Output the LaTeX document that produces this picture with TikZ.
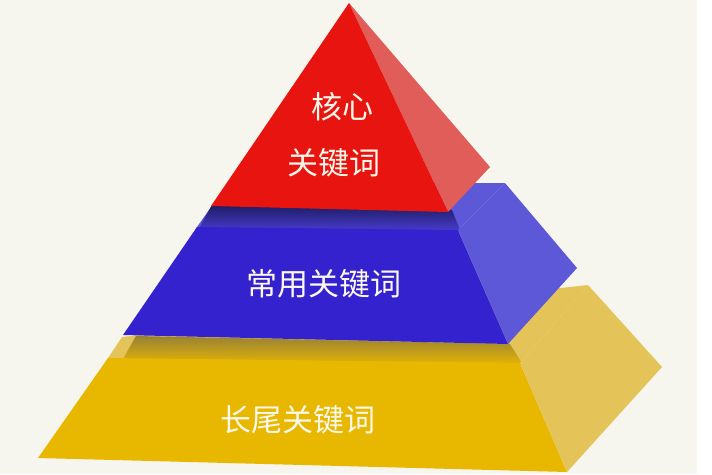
\documentclass[tikz,border=0pt]{standalone}
\usepackage{fontspec}
\newfontfamily\cjk{Noto Sans CJK SC}
\usetikzlibrary{positioning,fadings}

\definecolor{paper}{HTML}{F6F5EE}
\definecolor{redFront}{HTML}{E8140F}
\definecolor{redSide}{HTML}{E05D5A}
\definecolor{blueFront}{HTML}{3522CF}
\definecolor{blueSide}{HTML}{5D58D8}
\definecolor{blueShadow}{HTML}{1E1C62}
\definecolor{goldFront}{HTML}{E8B800}
\definecolor{goldSide}{HTML}{E4C459}
\definecolor{goldShadow}{HTML}{3C300E}
\definecolor{lblText}{HTML}{FBF7EA}

% soft left ends of the shadows
\pgfdeclarehorizontalshading{goldRamp}{100bp}{color(0bp)=(black); color(14bp)=(white); color(100bp)=(white)}
\pgfdeclarehorizontalshading{blueRamp}{100bp}{color(0bp)=(black); color(18bp)=(white); color(100bp)=(white)}
\pgfdeclarefading{goldFade}{\pgfuseshading{goldRamp}}
\pgfdeclarefading{blueFade}{\pgfuseshading{blueRamp}}

\tikzset{
  face/.style={line join=round},
  lbl/.style={text=lblText, font=\cjk\fontsize{31}{36}\selectfont, inner sep=0pt}
}

\begin{document}
\begin{tikzpicture}[x=1pt,y=-1pt]

 % Background
\fill[paper] (0,0) rectangle (712,474);
\fill[white] (697,0) rectangle (712,474);

 % Corners
\coordinate (yKL) at (122,337);
\coordinate (yK)  at (588,285);
\coordinate (yO)  at (662,367);
\coordinate (yTL) at (108,358);
\coordinate (yTR) at (520,363);
\coordinate (yBL) at (38,458);
\coordinate (yBR) at (567,472);

\coordinate (bKL) at (228,183);
\coordinate (bK)  at (505,183);
\coordinate (bO)  at (577,268);
\coordinate (bTL) at (197,227);
\coordinate (bTR) at (458,230);
\coordinate (bBL) at (123,335);
\coordinate (bBR) at (508,344);

\coordinate (rA) at (349,3);
\coordinate (rB) at (490,167);
\coordinate (rL) at (211,206);
\coordinate (rR) at (448,212);

 % Bottom layer
\fill[face, goldSide] (yKL) -- (yK) -- (yTR) -- (520,366) -- (106,361) -- (yTL) -- cycle;
\shade[path fading=goldFade, top color=goldShadow!45!goldSide, middle color=goldShadow, bottom color=goldFront]
  (136,336) -- (510,344) -- (524,366) -- (122,361) -- cycle;
\fill[face, goldFront] (yTL) -- (yTR) -- (yBR) -- (yBL) -- cycle;
\fill[face, goldSide] (yTR) -- (yK) -- (yO) -- (yBR) -- cycle;

 % Middle layer
\fill[face, blueSide] (bKL) -- (bK) -- (bTR) -- (458,233) -- (195,230) -- (bTL) -- cycle;
\shade[path fading=blueFade, top color=blueShadow, middle color=blueShadow!85!blueSide, bottom color=blueSide!50!blueFront]
  (212,205) -- (452,210) -- (461,232) -- (198,230) -- cycle;
\fill[face, blueFront] (bTL) -- (bTR) -- (bBR) -- (bBL) -- cycle;
\fill[face, blueSide] (bTR) -- (bK) -- (bO) -- (bBR) -- cycle;

 % Top layer
\fill[face, redSide] (rA) -- (rB) -- (rR) -- cycle;
\fill[face, redFront] (rA) -- (rR) -- (rL) -- cycle;

 % Labels
\node[lbl] (core)   at (342,107) {核心};
\node[lbl] (coreKw) at (334,163) {关键词};
\node[lbl] (common) at (324,284) {常用关键词};
\node[lbl] (tail)   at (298,420) {长尾关键词};

\end{tikzpicture}
\end{document}
